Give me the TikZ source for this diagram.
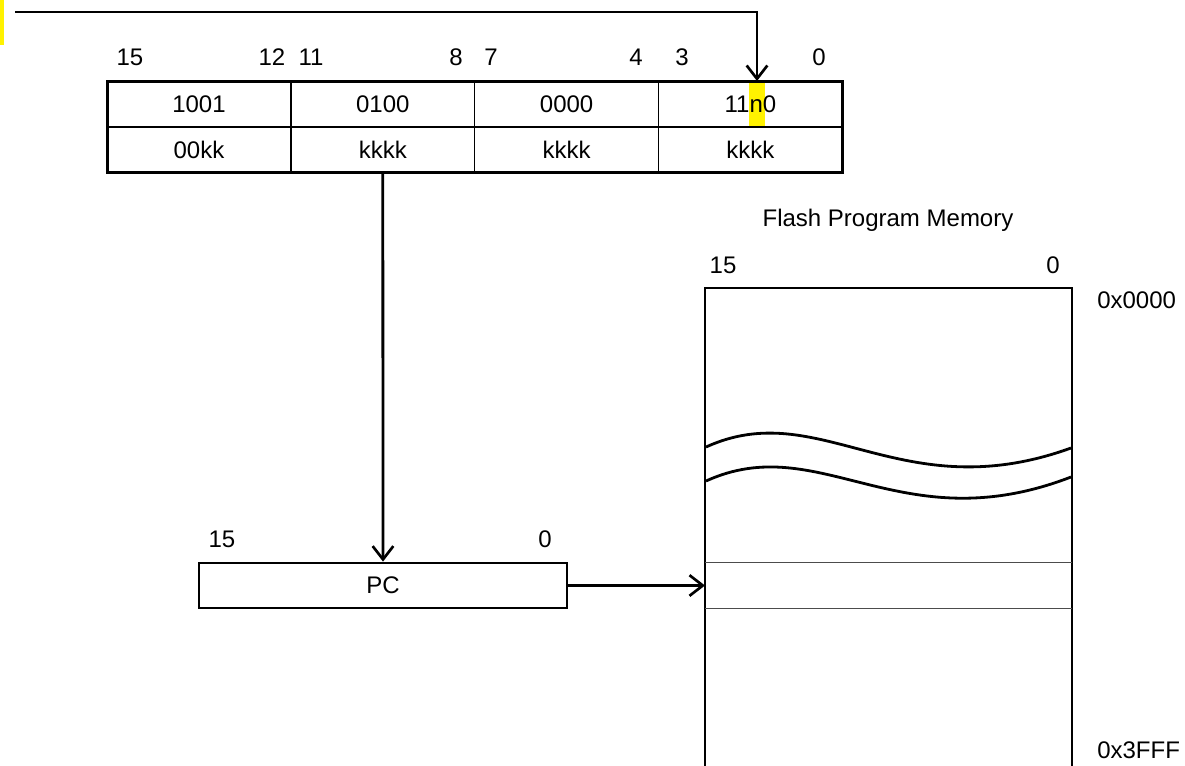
\documentclass[tikz,border=0pt]{standalone}
\usepackage{fontspec}
\setmainfont{Liberation Sans}
\usetikzlibrary{arrows.meta}
\tikzset{
  lbl/.style={inner sep=0pt, font=\fontsize{18}{21}\selectfont},
  cell/.style={draw, line width=1pt, minimum width=137.8pt, minimum height=34pt, inner sep=0pt, outer sep=0pt, font=\fontsize{18}{21}\selectfont},
  bold/.style={line width=2.1pt},
  conn/.style={line width=2.1pt, -{Straight Barb[length=10pt, width=15.5pt, line width=2pt]}},
}
\begin{document}
\begin{tikzpicture}[x=0.75pt,y=-0.75pt]
\useasboundingbox (0,0) rectangle (1185,765);
% left yellow marker
\fill[yellow] (0,0) rectangle (4,45);
% highlight behind n
\fill[yellow] (749,82) rectangle (765,126);
% instruction word table
\node[cell] (c1) at (199.0,104.25) {1001};
\node[cell] (c2) at (382.8,104.25) {0100};
\node[cell] (c3) at (566.6,104.25) {0000};
\node[cell] (c4) at (750.4,104.25) {11n0};
\node[cell] (d1) at (199.0,149.75) {00kk};
\node[cell] (d2) at (382.8,149.75) {kkkk};
\node[cell] (d3) at (566.6,149.75) {kkkk};
\node[cell] (d4) at (750.4,149.75) {kkkk};
\draw[bold] (c1.north west) rectangle (d4.south east);
\draw[bold] (c1.south west) -- (c4.south east);
% bit numbers
\node[lbl] (b15) at (130,57) {15};
\node[lbl] (b12) at (272,57) {12};
\node[lbl] (b11) at (311,57) {11};
\node[lbl] (b8) at (456,57) {8};
\node[lbl] (b7) at (491,57) {7};
\node[lbl] (b4) at (636,57) {4};
\node[lbl] (b3) at (682,57) {3};
\node[lbl] (b0) at (819,57) {0};
% top feedback line
\coordinate (start) at (15,12);
\coordinate (tip) at (757,81);
\draw[conn] (start) -| (tip);
% PC register
\node[draw, bold, minimum width=276pt, minimum height=33.75pt, inner sep=0pt, font=\fontsize{18}{21}\selectfont] (pc) at (383,585.5) {PC};
\node[lbl] (p15) at (222,539) {15};
\node[lbl] (p0) at (545,539) {0};
\draw[conn] (d2.south) -- (pc.north);
% flash program memory
\node[lbl] (title) at (888,220) {Flash Program Memory};
\node[lbl] (m15) at (723,265) {15};
\node[lbl] (m0) at (1053,265) {0};
\node[lbl, anchor=west] (a0) at (1097,300) {0x0000};
\node[lbl, anchor=west] (a3) at (1097,750) {0x3FFF};
\draw[bold] (705,770) -- (705,288) -- (1072,288) -- (1072,770);
\draw[bold] (706,447) .. controls (820,395) and (900,510) .. (1071,448);
\draw[bold] (706,481) .. controls (820,429) and (900,543) .. (1071,477);
\node[minimum width=275.25pt, minimum height=34pt, inner sep=0pt, outer sep=0pt] (slot) at (888.5,585.5) {};
\draw[line width=0.7pt, black!70] (slot.north west) -- (slot.north east);
\draw[line width=0.7pt, black!70] (slot.south west) -- (slot.south east);
\draw[conn] (pc.east) -- (slot.west);
\end{tikzpicture}
\end{document}
